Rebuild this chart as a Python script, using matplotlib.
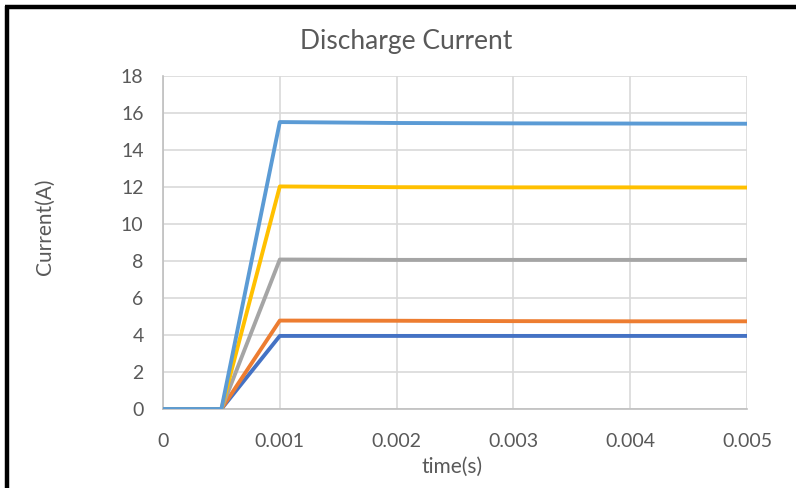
import numpy as np
import matplotlib.pyplot as plt
from matplotlib.lines import Line2D

plt.rcParams['font.family'] = ['Lato', 'DejaVu Sans']

# sample times (s)
time_s = [0, 0.0005, 0.001, 0.002, 0.003, 0.004, 0.005]

# discharge current for each case (A)
series_1 = [0, 0, 3.95, 3.95, 3.95, 3.95, 3.95]
series_2 = [0, 0, 4.78, 4.77, 4.75, 4.74, 4.74]
series_3 = [0, 0, 8.08, 8.06, 8.06, 8.06, 8.06]
series_4 = [0, 0, 12.03, 11.99, 11.98, 11.98, 11.97]
series_5 = [0, 0, 15.51, 15.46, 15.44, 15.43, 15.42]

x_ticks = [0, 0.001, 0.002, 0.003, 0.004, 0.005]
x_tick_labels = ['0', '0.001', '0.002', '0.003', '0.004', '0.005']
y_ticks = list(range(0, 19, 2))

colors = ['#4472C4', '#ED7D31', '#A5A5A5', '#FFC000', '#5B9BD5']
text_col = '#595959'

fig = plt.figure(figsize=(7.96, 4.88), dpi=100)
ax = fig.add_axes([163/796, 1 - 409/488, (747 - 163)/796, (409 - 76)/488])

for ys, c in zip([series_1, series_2, series_3, series_4, series_5], colors):
    ax.plot(time_s, ys, color=c, linewidth=2.8, solid_capstyle='butt', zorder=3)

ax.set_xlim(0, 0.005)
ax.set_ylim(0, 18)
ax.set_xticks(x_ticks)
ax.set_xticklabels(x_tick_labels)
ax.set_yticks(y_ticks)
ax.grid(True, color='#d9d9d9', linewidth=1.2, zorder=0)
ax.set_axisbelow(True)
for s in ['top', 'right']:
    ax.spines[s].set_visible(False)
for s in ['left', 'bottom']:
    ax.spines[s].set_color('#bfbfbf')
    ax.spines[s].set_linewidth(1.2)
ax.tick_params(length=0, labelsize=14, labelcolor=text_col)
ax.tick_params(axis='x', pad=17)
ax.tick_params(axis='y', pad=14)

fig.text(406/796, 1 - 42/488, 'Discharge Current', ha='center', va='center',
         fontsize=19, color=text_col)
fig.text(452/796, 1 - 467/488, 'time(s)', ha='center', va='center',
         fontsize=15, color=text_col)
fig.text(45/796, 1 - 227/488, 'Current(A)', ha='center', va='center',
         fontsize=15, color=text_col, rotation=90)

# chart frame (left and top edges visible)
fig.add_artist(Line2D([7/796, 7/796], [0, 1 - 6/488], transform=fig.transFigure,
                      color='black', linewidth=3.2, solid_capstyle='butt'))
fig.add_artist(Line2D([5/796, 1], [1 - 7/488, 1 - 7/488], transform=fig.transFigure,
                      color='black', linewidth=3.2, solid_capstyle='butt'))

fig.savefig('out.png', dpi=100)
